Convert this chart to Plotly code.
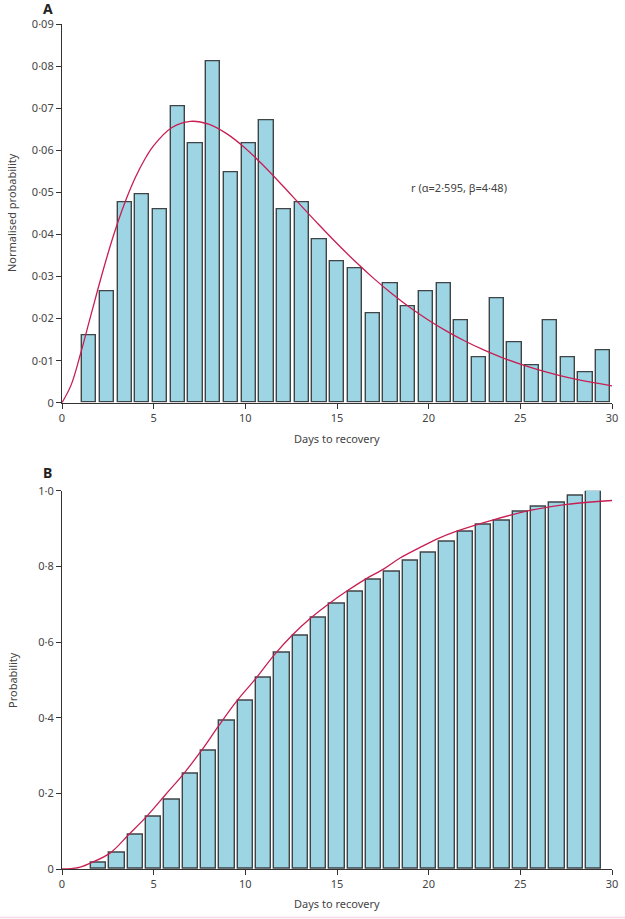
import numpy as np
import plotly.graph_objects as go

# ---------------- data ----------------
# Panel A: normalised histogram of days to recovery (30 bins between day 1 and day 30)
bin_start, bin_end, n_bins = 1, 30, 30
hist_a = [0.0160, 0.0266, 0.0477, 0.0495, 0.0460, 0.0706, 0.0618, 0.0813, 0.0548, 0.0618,
          0.0671, 0.0460, 0.0477, 0.0389, 0.0337, 0.0319, 0.0213, 0.0284, 0.0230, 0.0266,
          0.0284, 0.0195, 0.0107, 0.0248, 0.0143, 0.0090, 0.0195, 0.0107, 0.0072, 0.0125]

# fitted gamma density
curve_a_x = [0, 0.5, 1, 1.5, 2, 2.5, 3, 3.5, 4, 4.5, 5, 6, 7, 8, 9, 10, 11, 12, 13, 14, 15,
             16, 17, 18, 19, 20, 21, 22, 23, 24, 25, 26, 27, 28, 29, 30, 30.3]
curve_a_y = [0, 0.00424, 0.01146, 0.01957, 0.02770, 0.03537, 0.04231, 0.04838, 0.05355,
             0.05779, 0.06116, 0.06546, 0.06692, 0.06625, 0.06393, 0.06052, 0.05635, 0.05178,
             0.04706, 0.04238, 0.03786, 0.03357, 0.02957, 0.02591, 0.02258, 0.01961, 0.01696,
             0.01461, 0.01255, 0.01074, 0.00917, 0.00781, 0.00664, 0.00562, 0.00476, 0.00402,
             0.00383]
fit_label = "r (α=2·595, β=4·48)"

# Panel B: cumulative probability
days_b = list(range(2, 30))
cum_b = [0.017, 0.042, 0.090, 0.138, 0.183, 0.252, 0.312, 0.392, 0.446, 0.506, 0.572, 0.618,
         0.664, 0.701, 0.734, 0.766, 0.787, 0.814, 0.837, 0.864, 0.891, 0.909, 0.920, 0.944,
         0.958, 0.967, 0.986, 1.000]
# fitted cumulative curve
curve_b_x = [0, 0.5, 1, 1.62, 2.62, 3.62, 4.62, 5.62, 6.62, 7.62, 8.58, 9.58, 10.58, 11.58,
             12.58, 13.58, 14.58, 15.58, 16.58, 17.58, 18.44, 19.53, 20.44, 21.53, 23.53,
             25.53, 27.53, 30.26]
curve_b_y = [0, 0.001, 0.005, 0.017, 0.042, 0.090, 0.139, 0.195, 0.251, 0.314, 0.381, 0.447,
             0.504, 0.566, 0.619, 0.664, 0.702, 0.736, 0.767, 0.794, 0.822, 0.850, 0.872,
             0.893, 0.923, 0.948, 0.964, 0.975]

x_ticks = [0, 5, 10, 15, 20, 25, 30]
ya_ticks = [0, 0.01, 0.02, 0.03, 0.04, 0.05, 0.06, 0.07, 0.08, 0.09]
ya_text = ["0", "0·01", "0·02", "0·03", "0·04", "0·05", "0·06", "0·07", "0·08", "0·09"]
yb_ticks = [0, 0.2, 0.4, 0.6, 0.8, 1.0]
yb_text = ["0", "0·2", "0·4", "0·6", "0·8", "1·0"]

# ---------------- styling ----------------
W, H = 625, 919
BAR_FILL = "#9dd5e5"
BAR_LINE = "#3f4447"
CURVE = "#c81e52"
AXIS = "#333333"
TXT = "#444444"
FONT = "Noto Sans"

edges = np.linspace(bin_start, bin_end, n_bins + 1)
centers_a = (edges[:-1] + edges[1:]) / 2
bw = edges[1] - edges[0]

fig = go.Figure()
fig.add_trace(go.Bar(x=centers_a, y=hist_a, width=0.80 * bw,
                     marker=dict(color=BAR_FILL, line=dict(color=BAR_LINE, width=1.4)),
                     xaxis="x", yaxis="y", showlegend=False))
fig.add_trace(go.Scatter(x=curve_a_x, y=curve_a_y, mode="lines", line_shape="spline",
                         line=dict(color=CURVE, width=1.3), cliponaxis=False,
                         xaxis="x", yaxis="y", showlegend=False))
fig.add_trace(go.Bar(x=days_b, y=cum_b, width=0.82,
                     marker=dict(color=BAR_FILL, line=dict(color=BAR_LINE, width=1.4)),
                     xaxis="x2", yaxis="y2", showlegend=False))
fig.add_trace(go.Scatter(x=curve_b_x, y=curve_b_y, mode="lines", line_shape="spline",
                         line=dict(color=CURVE, width=1.3), cliponaxis=False,
                         xaxis="x2", yaxis="y2", showlegend=False))

x0, x1 = 62 / W, 612 / W
ya_dom = [(H - 402.7) / H, (H - 24.3) / H]
yb_dom = [(H - 869) / H, (H - 490.7) / H]

axis_common = dict(showline=True, linecolor=AXIS, linewidth=1.2, ticks="outside",
                   ticklen=5, tickwidth=1.1, tickcolor=AXIS, showgrid=False, zeroline=False,
                   automargin=False,
                   tickfont=dict(family=FONT, size=11, color=TXT))

fig.update_layout(
    width=W, height=H, autosize=False,
    margin=dict(l=0, r=0, t=0, b=0, pad=0, autoexpand=False),
    paper_bgcolor="white", plot_bgcolor="white",
    bargap=0,
    xaxis=dict(domain=[x0, x1], range=[0, 30], tickvals=x_ticks, anchor="y", **axis_common),
    yaxis=dict(domain=ya_dom, range=[0, 0.09], tickvals=ya_ticks, ticktext=ya_text,
               anchor="x", **axis_common),
    xaxis2=dict(domain=[x0, x1], range=[0, 30], tickvals=x_ticks, anchor="y2", **axis_common),
    yaxis2=dict(domain=yb_dom, range=[0, 1.0], tickvals=yb_ticks, ticktext=yb_text,
                anchor="x2", **axis_common),
)

def px_x(px):
    return px / W

def px_y(py):
    return 1 - py / H

def lab(text, px, py, size=11, color=TXT, angle=0):
    return dict(text=text, x=px_x(px), y=px_y(py), xref="paper", yref="paper",
                xanchor="center", yanchor="middle", textangle=angle, showarrow=False,
                font=dict(family=FONT, size=size, color=color))

ann = [
    lab("<b>A</b>", 48, 8, size=14, color="#222"),
    lab("<b>B</b>", 48, 472, size=14, color="#222"),
    lab("Normalised probability", 12, 213, angle=-90),
    lab("Probability", 12, 680, angle=-90),
    lab("Days to recovery", 337, 438),
    lab("Days to recovery", 337, 903),
    dict(text=fit_label, x=18.9, y=0.0513, xref="x", yref="y", xanchor="left",
         yanchor="middle", showarrow=False, font=dict(family=FONT, size=11, color=TXT)),
]
fig.update_layout(annotations=ann)

fig.add_shape(type="line", xref="paper", yref="paper", x0=0, x1=1,
              y0=px_y(917.5), y1=px_y(917.5), line=dict(color="#f8d6e4", width=1.5))

fig.write_html("out.html")
